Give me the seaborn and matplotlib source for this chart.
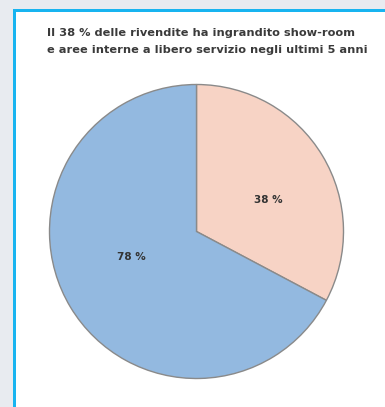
import matplotlib
matplotlib.use("Agg")
import matplotlib.pyplot as plt
from matplotlib.patches import Rectangle
import seaborn as sns

# Survey result: share of resellers that enlarged showroom / self-service areas
categories = ["Sì", "No"]
values = [38, 78]
value_labels = ["38 %", "78 %"]
colors = ["#f7d3c5", "#93b9e0"]

title_lines = [
    "Il 38 % delle rivendite ha ingrandito show-room",
    "e aree interne a libero servizio negli ultimi 5 anni",
]

sns.set_theme(style="white")
plt.rcParams["font.family"] = ["DejaVu Sans"]

W, H = 385, 407
fig = plt.figure(figsize=(W / 100, H / 100), dpi=100)
fig.patch.set_facecolor("#e8ebf0")

def px(x0, y0, w, h):
    # rectangle in pixel coordinates measured from the top-left corner
    return (x0 / W, 1 - (y0 + h) / H), w / W, h / H

(xy, w, h) = px(14, 10, W - 14, H - 10)
fig.patches.append(Rectangle(xy, w, h, transform=fig.transFigure,
                             facecolor="white", edgecolor="none", zorder=-2))
(xy, w, h) = px(13, 9, 3, H - 9)
fig.patches.append(Rectangle(xy, w, h, transform=fig.transFigure,
                             facecolor="#18b4f0", edgecolor="none", zorder=-1))
(xy, w, h) = px(13, 9, W - 13, 3)
fig.patches.append(Rectangle(xy, w, h, transform=fig.transFigure,
                             facecolor="#18b4f0", edgecolor="none", zorder=-1))

for i, line in enumerate(title_lines):
    fig.text(47 / W, 1 - (33 + 17 * i) / H, line, ha="left", va="center",
             fontsize=8.2, fontweight="bold", color="#3a3a3a")

cx, cy, r = 196.5, 231.5, 147
ax = fig.add_axes([(cx - r) / W, 1 - (cy + r) / H, 2 * r / W, 2 * r / H])
ax.set_zorder(5)
ax.set_facecolor("none")
wedges, _ = ax.pie(values, colors=colors, startangle=90, counterclock=False,
                   radius=1.0,
                   wedgeprops=dict(edgecolor="#8a8a8a", linewidth=1.0))
for wd in wedges:
    wd.set_clip_on(False)
ax.set_xlim(-1, 1)
ax.set_ylim(-1, 1)
ax.set_aspect("equal")
ax.axis("off")

label_pos = [(0.49, 0.215), (-0.44, -0.175)]
for (lx, ly), txt in zip(label_pos, value_labels):
    ax.text(lx, ly, txt, ha="center", va="center", fontsize=7.5,
            fontweight="bold", color="#333333")

fig.savefig("out.png", dpi=100, facecolor=fig.get_facecolor())
